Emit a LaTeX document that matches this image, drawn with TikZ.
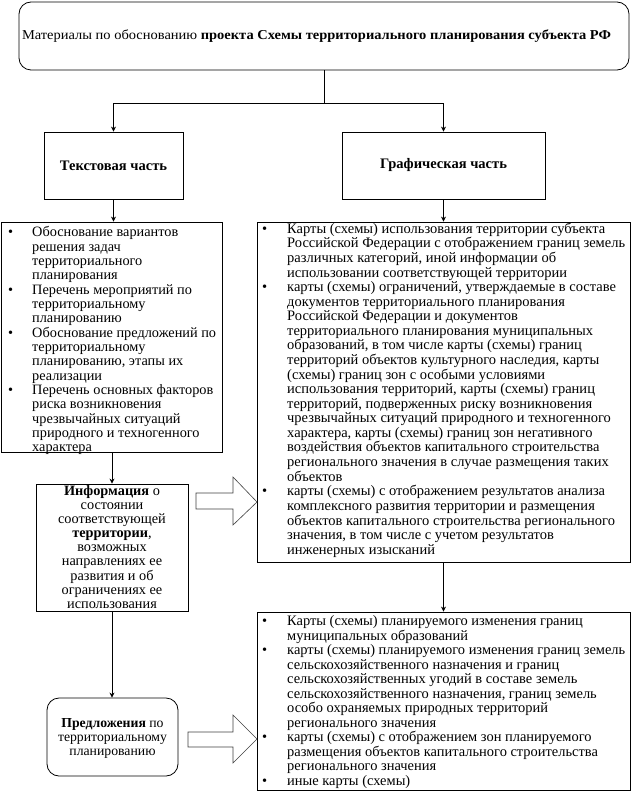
\documentclass[tikz,border=0pt]{standalone}
\usepackage{fontspec}
\setmainfont{Liberation Serif}
\usepackage{graphicx}
\usetikzlibrary{arrows.meta}
\newlength\reflen
\newcommand\fitsize[3]{%
  \settowidth\reflen{\normalfont\fontsize{10}{10}\selectfont #3}%
  \xdef#1{\fpeval{round(10*#2/\the\reflen,2)}}}
\newcommand\shiftdown[2]{\raisebox{-#1}[\height][\depth]{#2}}
\tikzset{
  box/.style={draw, line width=0.8pt, inner sep=0pt},
  rbox/.style={box, rounded corners=12pt},
  listtext/.style={anchor=north west, inner sep=0pt},
  conn/.style={line width=0.8pt, -{Stealth[length=5pt,width=5pt]}},
  plain/.style={line width=0.8pt},
  hollow/.style={draw=black!75, line width=0.6pt, fill=white, line join=miter}
}
\newcommand{\bul}{\textbullet}
\begin{document}%
\fitsize\fsL{184}{Обоснование предложений по}%
\fitsize\fsRa{338}{Российской Федерации с отображением границ земель}%
\fitsize\fsRb{338}{карты (схемы) планируемого изменения границ земель}%
\fitsize\fsI{208}{\hbox{соответствующей}\hbox{направлениях ее}}%
\fitsize\fsP{109}{территориальному}%
\fitsize\fsH{234}{\bfseries\hbox{Текстовая часть}\hbox{Графическая часть}}%
\begin{tikzpicture}[x=1pt,y=-1pt]
\useasboundingbox (0,0) rectangle (632,791);

% top box
\node[rbox, minimum width=610pt, minimum height=68pt, font=\fontsize{13.6}{14.4}\selectfont] (top) at (324,36)
  {\resizebox{589pt}{\height}{Материалы по обоснованию \textbf{проекта Схемы территориального планирования субъекта РФ}}\kern15pt};

% level 2
\node[box, minimum width=139pt, minimum height=67pt, font=\fontsize{\fsH}{14.4}\selectfont\bfseries] (tekst) at (113.5,165.5) {Текстовая часть};
\node[box, minimum width=203pt, minimum height=67pt, font=\fontsize{\fsH}{14.4}\selectfont\bfseries] (graf) at (443.5,165.5) {Графическая часть};

\coordinate (split) at (324,103);
\draw[plain] (top.south) -- (split);
\draw[conn] (split) -| (tekst.north);
\draw[conn] (split) -| (graf.north);

% left list
\node[box, minimum width=221pt, minimum height=230pt] (llist) at (111.5,337) {};
\node[listtext, font=\fontsize{\fsL}{14.3}\selectfont] (ltext) at (1,226.5) {\begin{tabular}{@{\hspace{7pt}}p{24pt}@{}l@{}}
\bul & Обоснование вариантов\\
 & решения задач\\
 & территориального\\
 & планирования\\
\bul & Перечень мероприятий по\\
 & территориальному\\
 & планированию\\
\bul & Обоснование предложений по\\
 & территориальному\\
 & планированию, этапы их\\
 & реализации\\
\bul & Перечень основных факторов\\
 & риска возникновения\\
 & чрезвычайных ситуаций\\
 & природного и техногенного\\
 & характера
\end{tabular}};
\draw[conn] (tekst.south) -- (tekst.south |- llist.north);

% right list 1
\node[box, minimum width=373pt, minimum height=340pt] (rlist1) at (443.5,392) {};
\node[listtext, font=\fontsize{\fsRa}{14.5}\selectfont] (r1text) at (257,222.5) {\begin{tabular}{@{\hspace{5pt}}p{25pt}@{}l@{}}
\bul & Карты (схемы) использования территории субъекта\\
 & Российской Федерации с отображением границ земель\\
 & различных категорий, иной информации об\\
 & использовании соответствующей территории\\
\bul & карты (схемы) ограничений, утверждаемые в составе\\
 & документов территориального планирования\\
 & Российской Федерации и документов\\
 & территориального планирования муниципальных\\
 & образований, в том числе карты (схемы) границ\\
 & территорий объектов культурного наследия, карты\\
 & (схемы) границ зон с особыми условиями\\
 & использования территорий, карты (схемы) границ\\
 & территорий, подверженных риску возникновения\\
 & чрезвычайных ситуаций природного и техногенного\\
 & характера, карты (схемы) границ зон негативного\\
 & воздействия объектов капитального строительства\\
 & регионального значения в случае размещения таких\\
 & объектов\\
\bul & карты (схемы) с отображением результатов анализа\\
 & комплексного развития территории и размещения\\
 & объектов капитального строительства регионального\\
 & значения, в том числе с учетом результатов\\
 & инженерных изысканий
\end{tabular}};
\draw[conn] (graf.south) -- (graf.south |- rlist1.north);

% right list 2
\node[box, minimum width=373pt, minimum height=178pt] (rlist2) at (443.5,701) {};
\node[listtext, font=\fontsize{\fsRb}{14.4}\selectfont] (r2text) at (257,615.5) {\begin{tabular}{@{\hspace{5pt}}p{25pt}@{}l@{}}
\bul & Карты (схемы) планируемого изменения границ\\
 & муниципальных образований\\
\bul & карты (схемы) планируемого изменения границ земель\\
 & сельскохозяйственного назначения и границ\\
 & сельскохозяйственных угодий в составе земель\\
 & сельскохозяйственного назначения, границ земель\\
 & особо охраняемых природных территорий\\
 & регионального значения\\
\bul & карты (схемы) с отображением зон планируемого\\
 & размещения объектов капитального строительства\\
 & регионального значения\\
\bul & иные карты (схемы)
\end{tabular}};
\draw[conn] (rlist1.south) -- (rlist2.north);

% info box
\node[box, minimum width=152pt, minimum height=127pt, font=\fontsize{\fsI}{14}\selectfont] (info) at (112,547.5)
  {\shiftdown{1.5pt}{\begin{tabular}{@{}c@{}}\textbf{Информация} о\\состоянии\\соответствующей\\\textbf{территории},\\возможных\\направлениях ее\\развития и об\\ограничениях ее\\использования\end{tabular}}};
\draw[conn] (info.north |- llist.south) -- (info.north);

% proposals
\node[rbox, minimum width=131pt, minimum height=78pt, font=\fontsize{\fsP}{14}\selectfont] (prop) at (112.5,737)
  {\shiftdown{2pt}{\begin{tabular}{@{}c@{}}\textbf{Предложения} по\\территориальному\\планированию\end{tabular}}};
\draw[conn] (info.south) -- (info.south |- prop.north);

% hollow block arrows
\draw[hollow] (196,493) -- (233,493) -- (233,477) -- (257,502) -- (233,525) -- (233,509) -- (196,509) -- cycle;
\draw[hollow] (188,732) -- (233,732) -- (233,715) -- (257,739) -- (233,763) -- (233,747) -- (188,747) -- cycle;
\end{tikzpicture}%
\end{document}
